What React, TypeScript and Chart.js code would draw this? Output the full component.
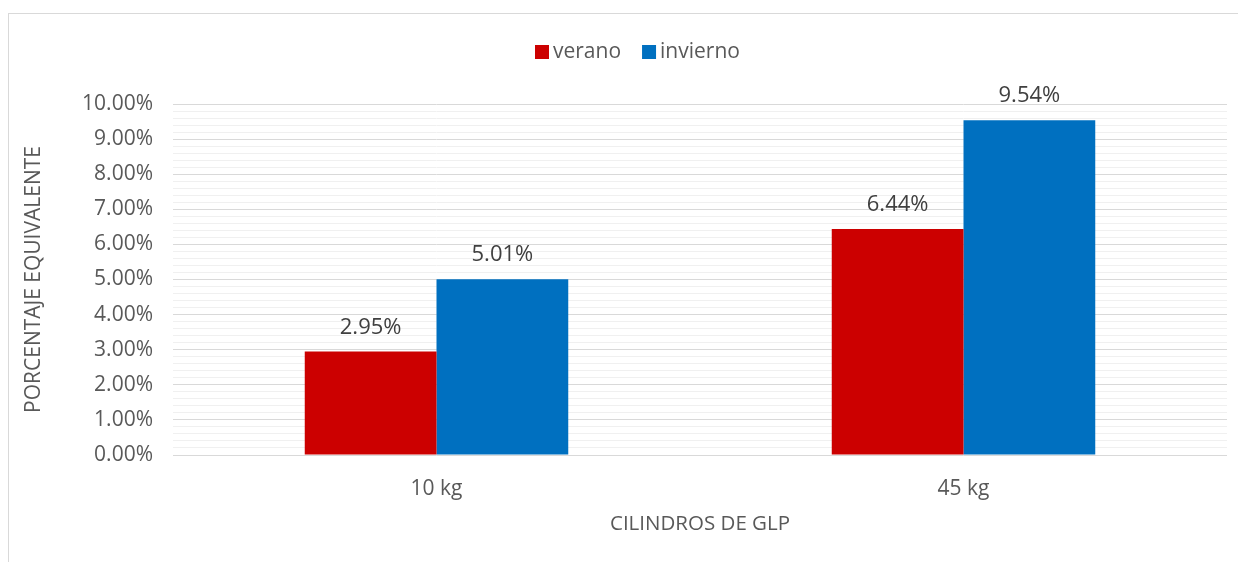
import React, { useEffect, useRef } from "react";
import { Chart, registerables } from "chart.js";

Chart.register(...registerables);

const categories = ["10 kg", "45 kg"];
const seriesNames = ["verano", "invierno"];
const verano = [2.95, 6.44];
const invierno = [5.01, 9.54];
const seriesColors = ["#CC0000", "#0070C0"];
const yTitle = "PORCENTAJE EQUIVALENTE";
const xTitle = "CILINDROS DE GLP";

const FONT = "'Open Sans', Lato, sans-serif";

const isMajor = (v: number) => Math.abs(v - Math.round(v)) < 1e-6;

const dataLabels = {
  id: "dataLabels",
  afterDatasetsDraw(chart: any) {
    const ctx = chart.ctx;
    ctx.save();
    ctx.font = `22px ${FONT}`;
    ctx.fillStyle = "#404040";
    ctx.textAlign = "center";
    ctx.textBaseline = "middle";
    chart.data.datasets.forEach((ds: any, i: number) => {
      const meta = chart.getDatasetMeta(i);
      meta.data.forEach((el: any, j: number) => {
        ctx.fillText(`${ds.data[j].toFixed(2)}%`, el.x, el.y - 24);
      });
    });
    ctx.restore();
  },
};

const customLegend = {
  id: "customLegend",
  afterDraw(chart: any) {
    const ctx = chart.ctx;
    ctx.save();
    ctx.font = `21px ${FONT}`;
    ctx.textBaseline = "middle";
    ctx.textAlign = "left";
    let x = 526;
    const y = 37;
    chart.data.datasets.forEach((ds: any) => {
      ctx.fillStyle = ds.backgroundColor;
      ctx.fillRect(x, y - 6, 14, 14);
      ctx.fillStyle = "#595959";
      ctx.fillText(ds.label, x + 18, y + 1);
      x += 18 + ctx.measureText(ds.label).width + 21;
    });
    ctx.restore();
  },
};

export default function App() {
  const ref = useRef<HTMLCanvasElement | null>(null);
  useEffect(() => {
    if (!ref.current) return;
    const chart = new Chart(ref.current, {
      type: "bar",
      data: {
        labels: categories,
        datasets: [
          { label: seriesNames[0], data: verano, backgroundColor: seriesColors[0] },
          { label: seriesNames[1], data: invierno, backgroundColor: seriesColors[1] },
        ],
      },
      options: {
        animation: false,
        responsive: true,
        maintainAspectRatio: false,
        layout: { padding: { top: 90, right: 11, left: 0, bottom: 0 } },
        plugins: { legend: { display: false }, tooltip: { enabled: false } },
        datasets: { bar: { categoryPercentage: 0.5, barPercentage: 1.0 } },
        scales: {
          x: {
            grid: { display: false, drawTicks: false },
            border: { display: false },
            ticks: { color: "#595959", font: { family: FONT, size: 21 }, padding: 21 },
            title: {
              display: true,
              text: xTitle,
              color: "#595959",
              font: { family: FONT, size: 20.5 },
              padding: 38,
            },
            afterFit(scale: any) {
              scale.height = 119;
            },
          },
          y: {
            min: 0,
            max: 10,
            ticks: {
              stepSize: 0.2,
              autoSkip: false,
              color: "#595959",
              font: { family: FONT, size: 21 },
              padding: 20,
              callback: (v: any) => (isMajor(Number(v)) ? `${Number(v).toFixed(2)}%` : ""),
            },
            grid: {
              drawTicks: false,
              lineWidth: 1,
              color: (c: any) => (c.tick && isMajor(c.tick.value) ? "#d9d9d9" : "#f0f0f0"),
            },
            border: { display: false },
            title: {
              display: true,
              text: yTitle,
              color: "#595959",
              font: { family: FONT, size: 21 },
              padding: 12,
            },
            afterFit(scale: any) {
              scale.width = 164;
            },
          },
        },
      },
      plugins: [dataLabels, customLegend],
    } as any);
    return () => chart.destroy();
  }, []);
  return (
    <div
      style={{
        marginTop: 5,
        width: 1229,
        height: 560,
        border: "1px solid #d9d9d9",
        position: "relative",
        background: "#fff",
      }}
    >
      <canvas ref={ref} />
    </div>
  );
}
